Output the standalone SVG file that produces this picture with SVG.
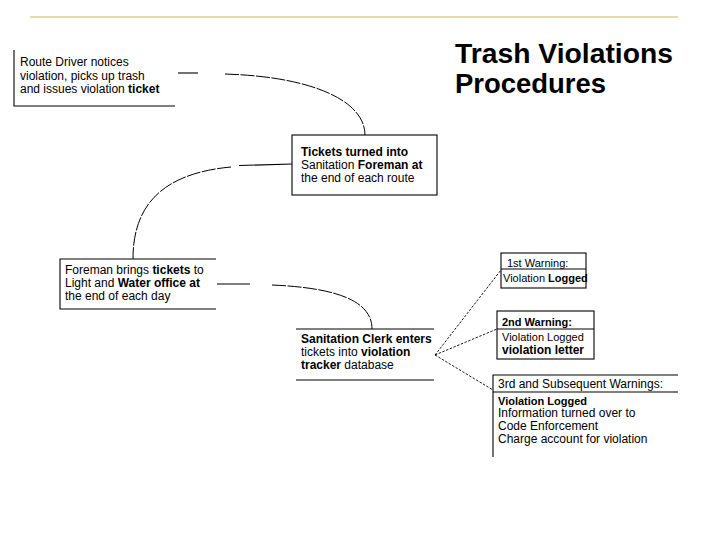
<svg xmlns="http://www.w3.org/2000/svg" width="720" height="540" viewBox="0 0 720 540">
<style>
  text { font-family: "Liberation Sans", Arial, sans-serif; font-size: 12px; fill: #000; }
  .sm { font-size: 11px; }
  .b { font-weight: bold; }
  .title { font-size: 27px; font-weight: bold; }
  .box { fill: #fff; stroke: #000; stroke-width: 1.1; }
  .ln { fill: none; stroke: #000; stroke-width: 1.1; }
  .curve { fill: none; stroke: #000; stroke-width: 1; stroke-dasharray: 14 1.5; }
  .dot { fill: none; stroke: #000; stroke-width: 0.9; stroke-dasharray: 2.5 1.5; }
</style>
<rect width="720" height="540" fill="#fff"/>
<line x1="30" y1="17" x2="678" y2="17" stroke="#c8b560" stroke-width="1.2"/>
<g id="title">
  <text class="title" x="455" y="63" textLength="218" lengthAdjust="spacingAndGlyphs">Trash Violations</text>
  <text class="title" x="455" y="93" textLength="151" lengthAdjust="spacingAndGlyphs">Procedures</text>
</g>
<g id="connectors">
  <line class="ln" x1="178" y1="73" x2="198" y2="73"/>
  <path class="curve" d="M225,74 C318,77 365,103 365,135"/>
  <line class="ln" x1="239" y1="165.5" x2="292" y2="164"/>
  <path class="curve" d="M231,167 C155,174 133,212 133,259"/>
  <line class="ln" x1="217" y1="284" x2="250" y2="284"/>
  <path class="curve" d="M272,285 C340,288 372,302 372,329"/>
  <line class="dot" x1="435" y1="355" x2="501" y2="270"/>
  <line class="dot" x1="435" y1="355" x2="497" y2="329"/>
  <line class="dot" x1="435" y1="355" x2="493" y2="390"/>
</g>
<g id="route-driver">
  <polyline class="ln" points="14,50 14,106 175,106"/>
  <text x="20" y="66">Route Driver notices</text>
  <text x="20" y="79.5">violation, picks up trash</text>
  <text x="20" y="93">and issues violation <tspan class="b">ticket</tspan></text>
</g>
<g id="tickets-turned">
  <rect class="box" x="292" y="135" width="145" height="60"/>
  <text x="301" y="156" class="b">Tickets turned into</text>
  <text x="301" y="169">Sanitation <tspan class="b">Foreman at</tspan></text>
  <text x="301" y="182">the end of each route</text>
</g>
<g id="foreman-brings">
  <polyline class="ln" points="216,259 60,259 60,309 216,309"/>
  <text x="65" y="274">Foreman brings <tspan class="b">tickets</tspan> to</text>
  <text x="65" y="287">Light and <tspan class="b">Water office at</tspan></text>
  <text x="65" y="300">the end of each day</text>
</g>
<g id="sanitation-clerk">
  <line class="ln" x1="296" y1="329" x2="434" y2="329"/>
  <line class="ln" x1="296" y1="380" x2="434" y2="380"/>
  <text x="301" y="343" class="b">Sanitation Clerk enters</text>
  <text x="301" y="356">tickets into <tspan class="b">violation</tspan></text>
  <text x="301" y="368.5"><tspan class="b">tracker</tspan> database</text>
</g>
<g id="warning-1">
  <rect class="box" x="501" y="253" width="85" height="35"/>
  <line class="ln" x1="501" y1="269" x2="586" y2="269"/>
  <text x="507" y="266.5" class="sm">1st Warning:</text>
  <text x="503" y="282" class="sm">Violation <tspan class="b">Logged</tspan></text>
</g>
<g id="warning-2">
  <rect class="box" x="497" y="311" width="97" height="48"/>
  <line class="ln" x1="497" y1="329" x2="594" y2="329"/>
  <text x="502" y="326" class="sm b">2nd Warning:</text>
  <text x="502" y="341" class="sm">Violation Logged</text>
  <text x="502" y="353.5" class="b">violation letter</text>
</g>
<g id="warning-3">
  <polyline class="ln" points="678,375 493,375 493,457"/>
  <line class="ln" x1="493" y1="392" x2="678" y2="392"/>
  <text x="498" y="388">3rd and Subsequent Warnings:</text>
  <text x="498" y="405" class="sm b">Violation Logged</text>
  <text x="498" y="417">Information turned over to</text>
  <text x="498" y="430">Code Enforcement</text>
  <text x="498" y="443">Charge account for violation</text>
</g>
</svg>
